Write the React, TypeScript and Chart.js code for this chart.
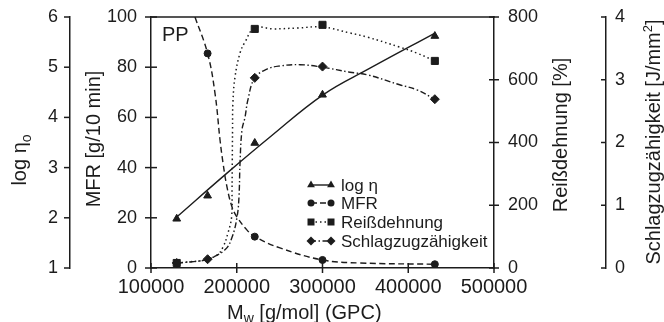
import React, { useEffect, useRef } from 'react';
import { Chart, registerables } from 'chart.js';

Chart.register(...registerables);

const FONT = '"Liberation Sans", Arial, Helvetica, sans-serif';
const INK = '#1c1c1c';

// ---- measured data points (markers) ----
const mwPoints = [130000, 166000, 221000, 300000, 431000];
const logEtaPoints = [1.98, 2.44, 3.49, 4.45, 5.62];
const mfrPoints = [null, 85.5, 12.5, 3.2, 1.5];
const reissPoints = [16, null, 762, 775, 660];
const schlagPoints = [0.08, 0.14, 3.03, 3.21, 2.69];

// ---- fitted curves ----
const logEtaCurveX = [130300, 188600, 238800, 300600, 355400, 431200];
const logEtaCurveY = [2.02, 2.89, 3.61, 4.45, 4.98, 5.68];

const mfrCurveX = [151300, 166000, 174600, 180500, 184000, 188600, 194500, 200300, 212000, 221000, 250400, 300000, 343700, 431000];
const mfrCurveY = [100, 85.5, 69.7, 51, 41.8, 32.3, 24.3, 20.3, 15.1, 12.5, 8, 3.2, 2.0, 1.5];

const reissCurveX = [130300, 142000, 160600, 177000, 184000, 189800, 194000, 194500, 194800, 195100, 195500, 198000, 203800, 209600, 221000, 243000, 271000, 300000, 332000, 352000, 390000, 410000, 431000];
const reissCurveY = [16, 19, 25, 41, 67, 112, 163, 249, 344, 440, 526, 609, 685, 720, 765, 762, 765, 768, 749, 736, 704, 685, 660];

const schlagCurveX = [130300, 148000, 166000, 186300, 194500, 200300, 202600, 203800, 206100, 209600, 213000, 221000, 235300, 250400, 273800, 300000, 332000, 352000, 390000, 410000, 431000];
const schlagCurveY = [0.08, 0.10, 0.14, 0.29, 0.49, 0.81, 1.13, 1.67, 2.2, 2.4, 2.68, 3.03, 3.17, 3.22, 3.24, 3.2, 3.12, 3.08, 2.92, 2.84, 2.69];

// ---- ticks ----
const xTickValues = [100000, 200000, 300000, 400000, 500000];
const etaTickValues = [1, 2, 3, 4, 5, 6];
const mfrTickValues = [0, 20, 40, 60, 80, 100];
const reissTickValues = [0, 200, 400, 600, 800];
const schlagTickValues = [0, 1, 2, 3, 4];

const legendLabels = ['log η', 'MFR', 'Reißdehnung', 'Schlagzugzähigkeit'];
const panelLabel = 'PP';

function zip(xs: number[], ys: (number | null)[]) {
  return xs.map((x, i) => ({ x, y: ys[i] })).filter((p) => p.y !== null);
}

type Part = { t: string; size: number; dy?: number };

function drawParts(ctx: CanvasRenderingContext2D, parts: Part[], x: number, y: number, rot: number, anchor: 'center' | 'left') {
  ctx.save();
  ctx.translate(x, y);
  if (rot) ctx.rotate(rot);
  ctx.textAlign = 'left';
  ctx.textBaseline = 'alphabetic';
  ctx.fillStyle = INK;
  let total = 0;
  const widths = parts.map((p) => {
    ctx.font = `${p.size}px ${FONT}`;
    const w = ctx.measureText(p.t).width;
    total += w;
    return w;
  });
  let cx = anchor === 'center' ? -total / 2 : 0;
  parts.forEach((p, i) => {
    ctx.font = `${p.size}px ${FONT}`;
    ctx.fillText(p.t, cx, p.dy || 0);
    cx += widths[i];
  });
  ctx.restore();
}

function drawShape(ctx: CanvasRenderingContext2D, shape: string, x: number, y: number) {
  ctx.beginPath();
  if (shape === 'triangle') {
    const r = 4.5;
    ctx.moveTo(x, y - r);
    ctx.lineTo(x + r * 0.866, y + r * 0.5);
    ctx.lineTo(x - r * 0.866, y + r * 0.5);
    ctx.closePath();
  } else if (shape === 'circle') {
    ctx.arc(x, y, 3.5, 0, Math.PI * 2);
  } else if (shape === 'square') {
    ctx.rect(x - 3.5, y - 3.5, 7, 7);
  } else {
    const r = 4.5;
    ctx.moveTo(x, y - r);
    ctx.lineTo(x + r, y);
    ctx.lineTo(x, y + r);
    ctx.lineTo(x - r, y);
    ctx.closePath();
  }
  ctx.fill();
}

const legendStyles = [
  { shape: 'triangle', dash: [] as number[] },
  { shape: 'circle', dash: [6, 3] },
  { shape: 'square', dash: [1.5, 3] },
  { shape: 'diamond', dash: [5, 2.5, 1.5, 2.5] },
];

const decorPlugin = {
  id: 'decor',
  afterDraw(chart: any) {
    const { ctx, chartArea: ca, scales } = chart;
    ctx.save();
    ctx.strokeStyle = INK;
    ctx.lineWidth = 1.5;
    const seg = (x1: number, y1: number, x2: number, y2: number) => {
      ctx.beginPath();
      ctx.moveTo(x1, y1);
      ctx.lineTo(x2, y2);
      ctx.stroke();
    };
    // top frame
    seg(ca.left - 0.75, ca.top, ca.right + 0.75, ca.top);
    // tick marks
    etaTickValues.forEach((v) => {
      const y = scales.yEta.getPixelForValue(v);
      seg(scales.yEta.right - 6, y, scales.yEta.right, y);
    });
    mfrTickValues.forEach((v) => {
      const y = scales.yMfr.getPixelForValue(v);
      seg(ca.left - 6, y, ca.left + 6, y);
    });
    reissTickValues.forEach((v) => {
      const y = scales.yReiss.getPixelForValue(v);
      seg(ca.right - 5, y, ca.right + 5, y);
    });
    schlagTickValues.forEach((v) => {
      const y = scales.ySchlag.getPixelForValue(v);
      seg(scales.ySchlag.left - 5, y, scales.ySchlag.left, y);
    });
    xTickValues.forEach((v) => {
      const x = scales.x.getPixelForValue(v);
      seg(x, ca.bottom - 5, x, ca.bottom + 5);
    });

    // axis titles
    drawParts(ctx, [{ t: 'log η', size: 20 }, { t: 'o', size: 14, dy: 5 }], 26, 160, -Math.PI / 2, 'center');
    drawParts(ctx, [{ t: 'MFR [g/10 min]', size: 20 }], 100, 139, -Math.PI / 2, 'center');
    drawParts(ctx, [{ t: 'Reißdehnung [%]', size: 20 }], 567, 135, -Math.PI / 2, 'center');
    drawParts(ctx, [{ t: 'Schlagzugzähigkeit [J/mm', size: 20 }, { t: '2', size: 13, dy: -8 }, { t: ']', size: 20 }], 660, 142, -Math.PI / 2, 'center');
    drawParts(ctx, [{ t: 'M', size: 20 }, { t: 'w', size: 14, dy: 4 }, { t: ' [g/mol] (GPC)', size: 20 }], 227, 319, 0, 'left');

    // panel label
    drawParts(ctx, [{ t: panelLabel, size: 20 }], 162, 41, 0, 'left');

    // legend
    const rows = [185, 203, 222, 241];
    ctx.fillStyle = INK;
    legendLabels.forEach((lab, i) => {
      const y = rows[i];
      const st = legendStyles[i];
      ctx.setLineDash(st.dash);
      ctx.lineWidth = 1.4;
      seg(311, y, 331, y);
      ctx.setLineDash([]);
      drawShape(ctx, st.shape, 311, y);
      drawShape(ctx, st.shape, 331, y);
      ctx.font = `17px ${FONT}`;
      ctx.textAlign = 'left';
      ctx.textBaseline = 'middle';
      ctx.fillText(lab, 341, y + 1);
    });
    ctx.restore();
  },
};

function yAxis(position: 'left' | 'right', weight: number, min: number, max: number, values: number[], width: number, padding: number) {
  return {
    type: 'linear',
    position,
    weight,
    min,
    max,
    afterBuildTicks: (s: any) => {
      s.ticks = values.map((v) => ({ value: v }));
    },
    afterFit: (s: any) => {
      s.width = width;
      s.paddingTop = 0;
      s.paddingBottom = 0;
    },
    grid: { display: false, drawTicks: false, tickLength: 0 },
    border: { display: true, color: INK, width: 1.5 },
    ticks: {
      color: INK,
      font: { family: FONT, size: 18 },
      padding,
      callback: (v: any) => String(v),
    },
  };
}

export default function App() {
  const ref = useRef<HTMLCanvasElement>(null);
  useEffect(() => {
    if (!ref.current) return;
    const curveBase = { showLine: true, pointRadius: 0, pointHoverRadius: 0, borderColor: INK, fill: false, tension: 0.4, borderCapStyle: 'butt' };
    const chart = new Chart(ref.current, {
      type: 'scatter',
      data: {
        datasets: [
          { data: zip(mwPoints, logEtaPoints), yAxisID: 'yEta', showLine: false, pointStyle: 'triangle', pointRadius: 4.5, pointBackgroundColor: INK, pointBorderColor: INK, pointBorderWidth: 1 },
          { data: zip(mwPoints, mfrPoints), yAxisID: 'yMfr', showLine: false, pointStyle: 'circle', pointRadius: 3.5, pointBackgroundColor: INK, pointBorderColor: INK, pointBorderWidth: 1 },
          { data: zip(mwPoints, reissPoints), yAxisID: 'yReiss', showLine: false, pointStyle: 'rect', pointRadius: 5, pointBackgroundColor: INK, pointBorderColor: INK, pointBorderWidth: 1 },
          { data: zip(mwPoints, schlagPoints), yAxisID: 'ySchlag', showLine: false, pointStyle: 'rectRot', pointRadius: 4.5, pointBackgroundColor: INK, pointBorderColor: INK, pointBorderWidth: 1 },
          { ...curveBase, data: zip(logEtaCurveX, logEtaCurveY), yAxisID: 'yEta', borderWidth: 1.4, borderDash: [] },
          { ...curveBase, data: zip(mfrCurveX, mfrCurveY), yAxisID: 'yMfr', borderWidth: 1.4, borderDash: [6, 3.5] },
          { ...curveBase, data: zip(reissCurveX, reissCurveY), yAxisID: 'yReiss', borderWidth: 1.5, borderDash: [1.5, 3] },
          { ...curveBase, data: zip(schlagCurveX, schlagCurveY), yAxisID: 'ySchlag', borderWidth: 1.4, borderDash: [6, 2.5, 1.5, 2.5] },
        ],
      } as any,
      options: {
        responsive: false,
        devicePixelRatio: 1,
        animation: false,
        events: [],
        layout: { padding: { top: 17, left: 0, right: 0, bottom: 0 } },
        plugins: { legend: { display: false }, tooltip: { enabled: false }, title: { display: false } },
        scales: {
          x: {
            type: 'linear',
            position: 'bottom',
            min: 100000,
            max: 500000,
            afterBuildTicks: (s: any) => {
              s.ticks = xTickValues.map((v) => ({ value: v }));
            },
            afterFit: (s: any) => {
              s.height = 54;
              s.paddingLeft = 0;
              s.paddingRight = 0;
            },
            grid: { display: false, drawTicks: false, tickLength: 0 },
            border: { display: true, color: INK, width: 1.5 },
            ticks: {
              color: INK,
              font: { family: FONT, size: 20 },
              padding: 7,
              maxRotation: 0,
              autoSkip: false,
              callback: (v: any) => String(v),
            },
          },
          yEta: yAxis('left', 2, 1, 6, etaTickValues, 70, 12),
          yMfr: yAxis('left', 1, 0, 100, mfrTickValues, 81, 14),
          yReiss: yAxis('right', 1, 0, 800, reissTickValues, 112, 14),
          ySchlag: yAxis('right', 2, 0, 4, schlagTickValues, 58, 9),
        } as any,
      },
      plugins: [decorPlugin],
    } as any);
    return () => chart.destroy();
  }, []);
  return (
    <div style={{ position: 'absolute', left: 0, top: 0, width: 664, height: 322, background: '#fff' }}>
      <canvas ref={ref} width={664} height={322} style={{ display: 'block', width: 664, height: 322 }} />
    </div>
  );
}
